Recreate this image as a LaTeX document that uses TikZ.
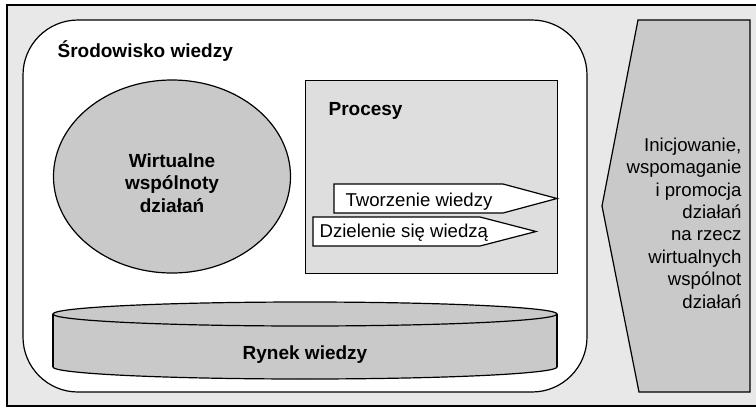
\documentclass[tikz,border=0pt]{standalone}
\usepackage{fontspec}
\setmainfont{Liberation Sans}
\usepackage{tikz}
\usetikzlibrary{shapes.geometric,positioning}
\definecolor{tlo}{gray}{0.91}
\definecolor{szary}{gray}{0.79}
\definecolor{jasny}{gray}{0.87}

\begin{document}
\begin{tikzpicture}[x=1pt, y=-1pt, line width=1.2pt]
\tikzstyle{every node}=[font=\fontsize{18.6}{22.4}\selectfont, inner sep=0pt]
\tikzstyle{tytul}=[font=\fontsize{19}{22.5}\selectfont\bfseries]
\tikzstyle{ksztalt}=[draw=black, fill=szary]
\useasboundingbox (0,0) rectangle (756,408);
\draw[fill=tlo] (7,5) rectangle (770,406);
% srodowisko wiedzy
\node[draw, fill=white, rounded corners=55pt, minimum width=564pt, minimum height=372pt] (srod) at (305,206) {};
\node[tytul, anchor=base west] (srodTxt) at (57,57) {Środowisko wiedzy};
\node[ellipse, ksztalt, minimum width=237pt, minimum height=193pt] (wsp) at (172,176.5) {};
\node[tytul, align=center] (wspTxt) at (172,183) {Wirtualne\\wspólnoty\\działań};
% procesy
\node[draw, fill=jasny, anchor=north west, minimum width=252pt, minimum height=193pt] (proc) at (305,80) {};
\node[tytul, anchor=base west] (procTxt) at (328,115) {Procesy};
\draw[fill=white] (334,184) -- (503,184) -- (557,198.5) -- (503,213) -- (334,213) -- cycle;
\node[anchor=base west] (tworz) at (345,206) {Tworzenie wiedzy};
\draw[fill=white] (313,217) -- (480,217) -- (536,231.5) -- (480,246) -- (313,246) -- cycle;
\node[anchor=base west] (dziel) at (319,237) {Dzielenie się wiedzą};
% rynek
\draw[ksztalt] (305,367) ellipse [x radius=252, y radius=12];
\fill[szary] (53,314) rectangle (557,367);
\draw (53,314) -- (53,367);
\draw (557,314) -- (557,367);
\draw[ksztalt] (305,314) ellipse [x radius=252, y radius=12];
\node[tytul, anchor=base] (rynek) at (305,359) {Rynek wiedzy};
% inicjowanie
\draw[ksztalt] (638,20) -- (750,20) -- (750,392) -- (639,392) -- (602,206) -- cycle;
\node[align=right, anchor=east] (inic) at (742,223) {Inicjowanie,\\wspomaganie\\i promocja\\działań\\na rzecz\\wirtualnych\\wspólnot\\działań};
\end{tikzpicture}
\end{document}
